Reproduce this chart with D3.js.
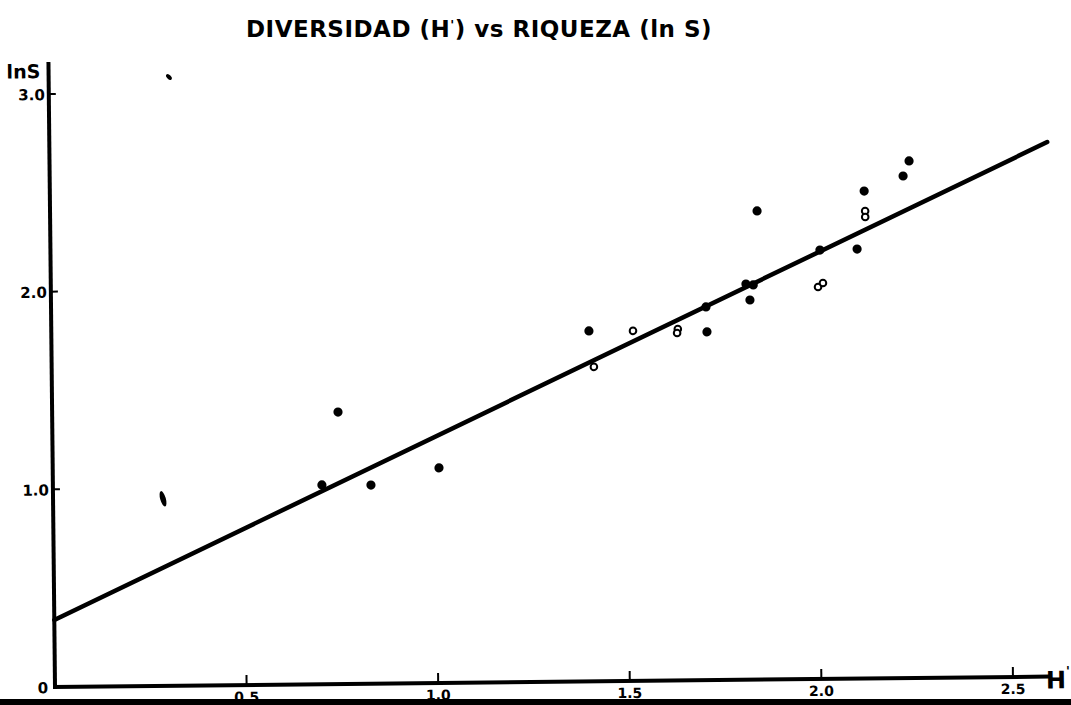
<!DOCTYPE html>
<meta charset="utf-8">
<title>Diversidad vs Riqueza</title>
<style>

    body {
        margin: 0;
        background: #fff;
    }

    text {
        font-family: "DejaVu Sans", sans-serif;
        font-weight: bold;
        fill: #000;
    }

</style>
<body>
<script src="https://d3js.org/d3.v7.min.js"></script>
<script>

    var w = 1071,
        h = 705;

    // H' (x) and ln S (y)
    var solidH = [0.702, 0.746, 0.830, 1.008, 1.403, 1.711, 1.709, 1.814, 1.833, 1.824, 1.845, 2.008, 2.105, 2.125, 2.227, 2.243];
    var solidS = [1.008, 1.376, 1.005, 1.088, 1.773, 1.762, 1.888, 2.002, 1.997, 1.921, 2.371, 2.170, 2.173, 2.466, 2.540, 2.616];

    var openH = [1.415, 1.518, 1.635, 1.633, 2.002, 2.015, 2.127, 2.127];
    var openS = [1.591, 1.771, 1.778, 1.758, 1.983, 2.003, 2.365, 2.335];

    // smudged marks on the sheet
    var smudgeH = [0.287, 0.314];
    var smudgeS = [0.946, 3.080];

    // fitted line ends
    var fitH = [0, 2.604];
    var fitS = [0.339, 2.704];

    var xTicks = [0.5, 1.0, 1.5, 2.0, 2.5],
        xTickLabels = ["0.5", "1.0", "1.5", "2.0", "2.5"];
    var yTicks = [1.0, 2.0, 3.0],
        yTickLabels = ["1.0", "2.0", "3.0"];

    var x = d3.scaleLinear().domain([0, 2.5]).range([55, 1013]),
        y = d3.scaleLinear().domain([0, 3]).range([687, 94]);

    var svg = d3.select("body").append("svg")
        .attr("width", w)
        .attr("height", h);

    // title
    var title = svg.append("text")
        .attr("x", 479)
        .attr("y", 37)
        .attr("text-anchor", "middle")
        .style("font-size", "23px")
        .style("letter-spacing", "0.5px");
    title.append("tspan").text("DIVERSIDAD (H");
    title.append("tspan").attr("dy", -8).style("font-size", "13px").text("'");
    title.append("tspan").attr("dy", 8).text(") vs  RIQUEZA  (ln S)");

    // the sheet sits a little askew on the scanner
    var g = svg.append("g")
        .attr("transform", "rotate(-0.6," + x(0) + "," + y(0) + ")");

    // axes
    g.append("line")
        .attr("x1", x(0)).attr("y1", 62)
        .attr("x2", x(0)).attr("y2", y(0) + 2)
        .attr("stroke", "#000").attr("stroke-width", 4);

    g.append("line")
        .attr("x1", x(0) - 2).attr("y1", y(0))
        .attr("x2", 1050).attr("y2", y(0))
        .attr("stroke", "#000").attr("stroke-width", 4);

    g.selectAll(".xtick")
        .data(xTicks)
        .enter().append("line")
        .attr("class", "xtick")
        .attr("x1", function(d) { return x(d); })
        .attr("x2", function(d) { return x(d); })
        .attr("y1", y(0))
        .attr("y2", y(0) - 10)
        .attr("stroke", "#000").attr("stroke-width", 2);

    g.selectAll(".xlab")
        .data(xTicks)
        .enter().append("text")
        .attr("class", "xlab")
        .attr("x", function(d) { return x(d); })
        .attr("y", y(0) + 17)
        .attr("text-anchor", "middle")
        .style("font-size", "14px")
        .text(function(d, i) { return xTickLabels[i]; });

    g.selectAll(".ytick")
        .data(yTicks)
        .enter().append("line")
        .attr("class", "ytick")
        .attr("x1", x(0))
        .attr("x2", x(0) + 7)
        .attr("y1", function(d) { return y(d); })
        .attr("y2", function(d) { return y(d); })
        .attr("stroke", "#000").attr("stroke-width", 2);

    g.selectAll(".ylab")
        .data(yTicks)
        .enter().append("text")
        .attr("class", "ylab")
        .attr("x", x(0) - 4)
        .attr("y", function(d) { return y(d) + 6; })
        .attr("text-anchor", "end")
        .style("font-size", "15px")
        .text(function(d, i) { return yTickLabels[i]; });

    g.append("text")
        .attr("x", 43).attr("y", y(0) + 6)
        .attr("text-anchor", "middle")
        .style("font-size", "15px")
        .text("0");

    g.append("text")
        .attr("x", 13).attr("y", 78)
        .style("font-size", "19px")
        .text("lnS");

    var hl = g.append("text")
        .attr("x", 1046).attr("y", y(0) + 12)
        .style("font-size", "24px");
    hl.append("tspan").text("H");
    hl.append("tspan").attr("dy", -13).style("font-size", "13px").text("'");

    // fitted line
    g.append("line")
        .attr("x1", x(fitH[0])).attr("y1", y(fitS[0]))
        .attr("x2", x(fitH[1])).attr("y2", y(fitS[1]))
        .attr("stroke", "#000")
        .attr("stroke-width", 4.5)
        .attr("stroke-linecap", "round");

    // points
    g.selectAll(".solid")
        .data(d3.range(solidH.length))
        .enter().append("circle")
        .attr("class", "solid")
        .attr("cx", function(i) { return x(solidH[i]); })
        .attr("cy", function(i) { return y(solidS[i]); })
        .attr("r", 4.6)
        .attr("fill", "#000");

    g.selectAll(".open")
        .data(d3.range(openH.length))
        .enter().append("circle")
        .attr("class", "open")
        .attr("cx", function(i) { return x(openH[i]); })
        .attr("cy", function(i) { return y(openS[i]); })
        .attr("r", 3.3)
        .attr("fill", "#fff")
        .attr("stroke", "#000")
        .attr("stroke-width", 2);

    g.selectAll(".smudge")
        .data(d3.range(smudgeH.length))
        .enter().append("ellipse")
        .attr("class", "smudge")
        .attr("transform", function(i) {
            return "translate(" + x(smudgeH[i]) + "," + y(smudgeS[i]) + ")rotate(" + (i ? 45 : 75) + ")";
        })
        .attr("rx", function(i) { return i ? 3.5 : 8; })
        .attr("ry", function(i) { return i ? 2 : 2.8; })
        .attr("fill", "#000");

    // dark scanner edge at the foot of the sheet
    svg.append("rect")
        .attr("x", 0).attr("y", 699)
        .attr("width", w).attr("height", h - 699)
        .attr("fill", "#000");

</script>
